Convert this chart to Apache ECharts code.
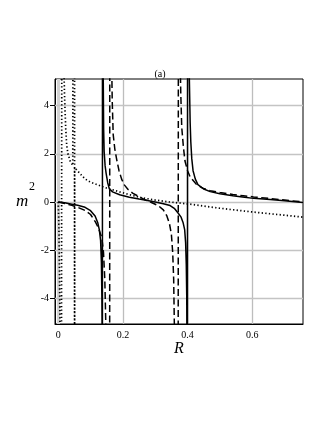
<!DOCTYPE html>
<html><head><meta charset="utf-8">
<script src="https://cdn.jsdelivr.net/npm/echarts@6/dist/echarts.min.js"></script>
<style>html,body{margin:0;padding:0;background:#fff}#c{width:327px;height:423px}</style>
</head><body><div id="c"></div>
<script>
const xTicks = [0, 0.2, 0.4, 0.6];
const yTicks = [-4, -2, 0, 2, 4];
const titleText = '(a)';
const xName = 'R';
const yName = 'm';
const yNameSup = '2';

// [R, m^2] samples
const solidCurve = [[0,0],[0.02,-0.03],[0.042,-0.09],[0.06,-0.14],[0.083,-0.22],[0.1,-0.36],[0.114,-0.58],[0.122,-0.85],[0.127,-1.15],[0.131,-1.6],[0.1335,-2.5],[0.135,-4],[0.136,-6],[0.1362,-60],[0.1372,60],[0.139,5.5],[0.1405,3],[0.142,2.1],[0.145,1.5],[0.148,1.2],[0.153,0.8],[0.158,0.55],[0.168,0.42],[0.19,0.3],[0.22,0.2],[0.25,0.12],[0.28,0.05],[0.3,0.0],[0.325,-0.07],[0.346,-0.15],[0.36,-0.28],[0.37,-0.45],[0.38,-0.63],[0.386,-0.85],[0.391,-1.15],[0.394,-1.7],[0.396,-2.6],[0.3975,-4],[0.398,-6],[0.3985,-60],[0.4012,60],[0.405,5.5],[0.408,3.3],[0.41,2.5],[0.413,1.8],[0.417,1.3],[0.424,0.95],[0.432,0.72],[0.45,0.54],[0.47,0.43],[0.5,0.34],[0.54,0.26],[0.57,0.21],[0.604,0.15],[0.655,0.1],[0.7,0.05],[0.757,-0.02]];
const dashedCurve = [[0,0],[0.02,-0.06],[0.042,-0.14],[0.06,-0.22],[0.083,-0.35],[0.1,-0.52],[0.115,-0.83],[0.125,-1.1],[0.135,-1.5],[0.14,-2.1],[0.144,-3.2],[0.147,-5],[0.149,-6],[0.158,-60],[0.1605,60],[0.165,6],[0.167,4.2],[0.17,2.8],[0.175,2.2],[0.181,1.75],[0.188,1.3],[0.196,0.95],[0.205,0.7],[0.216,0.52],[0.23,0.37],[0.247,0.24],[0.27,0.08],[0.29,-0.03],[0.31,-0.16],[0.325,-0.33],[0.336,-0.58],[0.344,-0.9],[0.35,-1.35],[0.354,-2.1],[0.357,-3.2],[0.359,-5],[0.36,-6],[0.369,-60],[0.3735,60],[0.377,6],[0.379,4.5],[0.382,3.1],[0.387,2.3],[0.392,1.7],[0.4,1.3],[0.408,1.04],[0.42,0.85],[0.428,0.72],[0.449,0.56],[0.47,0.47],[0.5,0.39],[0.54,0.31],[0.572,0.26],[0.604,0.21],[0.65,0.15],[0.7,0.08],[0.757,0.0]];
const dottedCurve = [[0,0],[0.002,-1],[0.004,-3],[0.0055,-5.5],[0.006,-60],[0.015,60],[0.0175,5.5],[0.02,4.2],[0.023,3.1],[0.026,2.4],[0.03,2.0],[0.037,1.7],[0.045,1.52],[0.0503,1.45],[0.0504,60],[0.0506,-60],[0.0507,1.43],[0.058,1.32],[0.066,1.2],[0.074,1.08],[0.084,0.95],[0.1,0.82],[0.12,0.72],[0.145,0.6],[0.16,0.54],[0.19,0.42],[0.23,0.27],[0.26,0.17],[0.3,0.08],[0.345,0.0],[0.407,-0.09],[0.5,-0.26],[0.604,-0.42],[0.7,-0.55],[0.757,-0.63]];

const chart = echarts.init(document.getElementById('c'), null, {renderer: 'canvas'});
const serif = 'Liberation Serif';
const gridMarks = xTicks.map(v => ({xAxis: v, lineStyle: {width: v === 0 ? 3 : 1.3, color: v === 0 ? '#d2d2d2' : '#bdbdbd', type: 'solid'}}))
  .concat(yTicks.map(v => ({yAxis: v, lineStyle: {width: 1.3, color: '#c4c4c4', type: 'solid'}})));

chart.setOption({
  animation: false,
  backgroundColor: '#fff',
  grid: {left: 55, top: 79, right: 24, bottom: 99, show: true, borderColor: '#000', borderWidth: 1, containLabel: false, outerBoundsMode: 'none'},
  xAxis: {
    type: 'value', min: -0.01, max: 0.757,
    axisLine: {onZero: false, lineStyle: {color: '#000', width: 1}},
    axisTick: {show: false, customValues: xTicks},
    axisLabel: {customValues: xTicks, color: '#000', fontFamily: serif, fontSize: 10, margin: 6},
    splitLine: {show: false}
  },
  yAxis: {
    type: 'value', min: -5.07, max: 5.11,
    axisLine: {onZero: false, lineStyle: {color: '#000', width: 1}},
    axisTick: {show: true, customValues: yTicks, length: 5, lineStyle: {color: '#000'}},
    axisLabel: {customValues: yTicks, color: '#000', fontFamily: serif, fontSize: 10, margin: 6},
    splitLine: {show: false}
  },
  graphic: [
    {type: 'text', style: {text: titleText, x: 160, y: 74, font: '10px "Liberation Serif"', fill: '#000', textAlign: 'center', textVerticalAlign: 'middle'}},
    {type: 'text', style: {text: yName, x: 16, y: 202, font: 'italic 17px "Liberation Serif"', fill: '#000', textAlign: 'left', textVerticalAlign: 'middle'}},
    {type: 'text', style: {text: yNameSup, x: 29, y: 186.5, font: '12px "Liberation Serif"', fill: '#000', textAlign: 'left', textVerticalAlign: 'middle'}},
    {type: 'text', style: {text: xName, x: 179, y: 349, font: 'italic 16px "Liberation Serif"', fill: '#000', textAlign: 'center', textVerticalAlign: 'middle'}}
  ],
  series: [
    {type: 'line', data: [], z: 1, silent: true, markLine: {silent: true, symbol: 'none', label: {show: false}, z: 1, data: gridMarks}},
    {type: 'line', data: dottedCurve, z: 10, showSymbol: false, clip: true, lineStyle: {color: '#000', width: 1.7, type: [1.3, 2.3]}},
    {type: 'line', data: dashedCurve, z: 10, showSymbol: false, clip: true, lineStyle: {color: '#000', width: 1.5, type: [7, 3.5]}},
    {type: 'line', data: solidCurve, z: 10, showSymbol: false, clip: true, lineStyle: {color: '#000', width: 1.5}}
  ]
});
</script></body></html>
